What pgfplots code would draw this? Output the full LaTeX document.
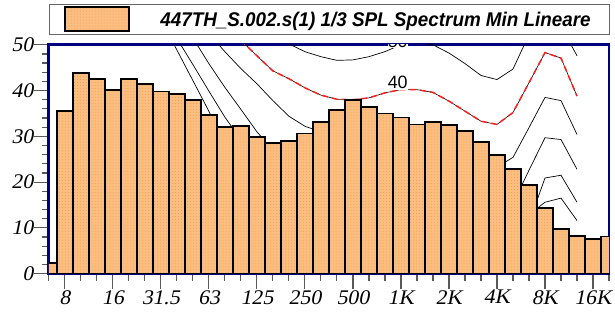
\documentclass[border=0pt]{standalone}
\usepackage{fontspec}
\setmainfont{Liberation Serif}
\newfontfamily\tickfont[FakeStretch=1.04, FakeSlant=0.2]{Liberation Serif}
\newfontfamily\legfont{Liberation Sans}
\newfontfamily\legtitlefont[FakeStretch=0.95]{Liberation Sans Bold Italic}
\usepackage{pgfplots}
\pgfplotsset{compat=1.18}
\usetikzlibrary{patterns}
\definecolor{navyf}{RGB}{0,0,128}
\definecolor{barorange}{RGB}{252,190,128}
\definecolor{bardots}{RGB}{232,158,92}
\definecolor{redc}{RGB}{255,30,30}
\begin{document}
\begin{tikzpicture}
\begin{axis}[
  scale only axis, width=563bp, height=230bp,
  xmin=0, xmax=35, ymin=0, ymax=50,
  axis line style={navyf, line width=2.6bp},
  xtick={1,4,...,34},
  xticklabels={8,16,31.5,63,125,250,500,1K,2K,4K,8K,16K},
  minor xtick={0,...,35},
  ytick={0,10,...,50}, minor ytick={0,2,...,50},
  tick align=outside, xtick pos=bottom, ytick pos=left,
  major tick length=15bp, minor tick length=7bp,
  tick style={black!65, line width=1.2bp},
  ticklabel style={font=\tickfont\fontsize{21}{21}\selectfont},
  yticklabel style={inner xsep=0.5bp},
  xticklabel style={inner ysep=1.5bp, inner xsep=0pt},
  /pgf/number format/assume math mode=true,
]
% contour A (50)
\addplot[black, line width=0.7bp] coordinates {
(12,60) (13,56) (14,52.5) (15,50.2) (16,48.5) (17,47.4) (18,46.6) (19,46.7) (20,47.4) (21,48.5) (22,50.0) (23,50.5) (24,50.0) (25,48.2) (26,45.9) (27,43.3) (28,42.4) (29,44.7) (30,52.2) (31,57.5) (32,54) (33,47.6)};
% contour B (40)
\addplot[black, line width=0.6bp] coordinates {
(10,62) (11,56) (12,51) (13,47.6) (14,44.3) (15,42.6) (16,40.6) (17,39.0) (18,38.1) (19,38.0) (20,38.4) (21,39.5) (22,40.2) (23,40.2) (24,39.6) (25,37.7) (26,35.5) (27,33.3) (28,32.6) (29,35.2) (30,41.7) (31,48.3) (32,47.1) (33,38.8)};
\addplot[redc, line width=1.5bp, dash pattern=on 6bp off 4bp] coordinates {
(10,62) (11,56) (12,51) (13,47.6) (14,44.3) (15,42.6) (16,40.6) (17,39.0) (18,38.1) (19,38.0) (20,38.4) (21,39.5) (22,40.2) (23,40.2) (24,39.6) (25,37.7) (26,35.5) (27,33.3) (28,32.6) (29,35.2) (30,41.7) (31,48.3) (32,47.1) (33,38.8)};
% contour C (30)
\addplot[black, line width=0.7bp] coordinates {
(8,62) (9,57) (10,52.5) (11,48.5) (12,44.8) (13,41.5) (14,37.8) (15,34.4) (16,32.2) (17,31) (18,30.5) (19,30) (20,29.5) (21,29.5) (22,30) (23,30) (24,29.5) (25,28) (26,26) (27,24.5) (28,23.3) (29,25.4) (30,31.9) (31,38.5) (32,37.8) (33,30.4)};
% contour D (20)
\addplot[black, line width=0.7bp] coordinates {
(7,62) (8,56.5) (9,51.5) (10,45.9) (11,40.7) (12,35.9) (13,31.0) (14,27.0) (15,25.5) (16,24) (17,23) (18,22) (19,21) (20,20.5) (21,20) (22,20) (23,20) (24,19.5) (25,18) (26,16) (27,14.5) (28,13.5) (29,15.3) (30,22.6) (31,29.7) (32,29.3) (33,22.8)};
% contour E (10)
\addplot[black, line width=0.7bp] coordinates {
(6,66) (7,57) (8,51.4) (9,45.7) (10,39.9) (11,34.2) (12,29.3) (13,26) (14,23) (15,20) (16,17) (17,15) (18,13) (19,12) (20,11) (21,10) (22,10) (23,10) (24,9.5) (25,8) (26,6.5) (27,5.5) (28,5) (29,6) (30,11.1) (31,20.9) (32,21.5) (33,15.6)};
% contour F (threshold)
\addplot[black, line width=0.7bp] coordinates {
(5,68) (6,62) (7,55.5) (8,48.9) (9,42.2) (10,35.5) (11,28) (12,24) (13,20) (14,17) (15,14) (16,12) (17,10) (18,8) (19,6) (20,5) (21,4) (22,4) (23,3) (24,3) (25,2.5) (26,2) (27,2) (28,2) (29,4) (30,12.9) (31,15.6) (32,16.5) (33,11.6)};
% spectrum bars
\addplot[ybar, bar width=16.09bp, draw=black, line width=1.8bp,
  preaction={fill=barorange}, pattern=dots, pattern color=bardots] coordinates {
(0,2.3) (1,35.5) (2,43.8) (3,42.6) (4,40.1) (5,42.6) (6,41.4) (7,39.8) (8,39.3) (9,37.9)
(10,34.6) (11,32.0) (12,32.2) (13,29.9) (14,28.5) (15,29.0) (16,30.6) (17,33.2) (18,35.8) (19,37.9)
(20,36.4) (21,35.0) (22,34.1) (23,32.6) (24,33.2) (25,32.4) (26,31.1) (27,28.8) (28,26.0) (29,22.9)
(30,19.4) (31,14.3) (32,9.8) (33,8.2) (34,7.6) (35,8.1)};
\node[fill=white, inner sep=0.5bp, font=\legfont\fontsize{18}{18}\selectfont] at (axis cs:21.8,41.7) {40};
\begin{scope}
\clip (axis cs:0,0) rectangle (axis cs:35,50.35);
\node[fill=white, inner sep=0pt, font=\legfont\fontsize{18}{18}\selectfont] at (axis cs:21.8,50.75) {50};
\end{scope}
\node[anchor=east, inner sep=0pt, xshift=-15.5bp, font=\tickfont\fontsize{21}{21}\selectfont] at (axis cs:0,45) {dB};
\end{axis}
% legend
\draw[black!60, line width=0.8bp, fill=white] (1bp,240bp) rectangle (563bp,271bp);
\draw[black, line width=1.8bp, preaction={fill=barorange}, pattern=dots, pattern color=bardots] (16bp,244bp) rectangle (81bp,268bp);
\node[anchor=base west, inner sep=0pt, font=\legtitlefont\fontsize{20}{20}\selectfont] at (112bp,248.2bp) {447TH\_S.002.s(1) 1/3 SPL Spectrum Min Lineare};
\pgfresetboundingbox
\path (-49bp,-47bp) rectangle (569bp,275bp);
\end{tikzpicture}
\end{document}
